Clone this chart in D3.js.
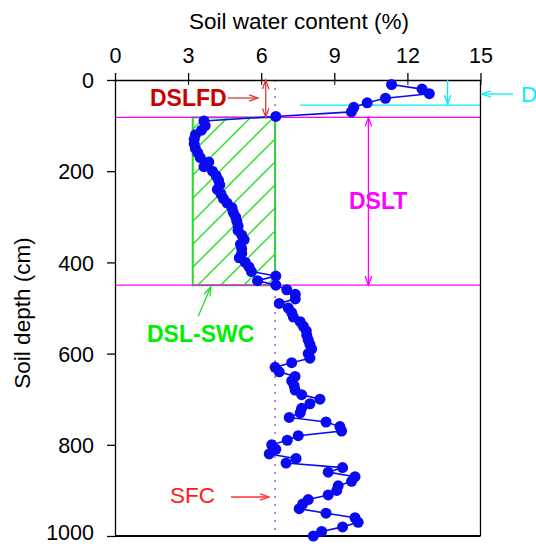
<!DOCTYPE html>
<html>
<head>
<meta charset="utf-8">
<script src="https://cdn.jsdelivr.net/npm/d3@7/dist/d3.min.js"></script>
<style>
  html, body { margin: 0; padding: 0; background: #fff; }
  svg { display: block; font-family: "Liberation Sans", Arial, sans-serif; }
</style>
</head>
<body>
<svg id="chart" width="536" height="547"></svg>
<script>
// ---- data ----
const depths = [10,20,30,40,50,60,70,80,90,100,110,120,130,140,150,160,170,180,190,200,
  210,220,230,240,250,260,270,280,290,300,310,320,330,340,350,360,370,380,390,400,
  410,420,430,440,450,460,470,480,490,500,510,520,530,540,550,560,570,580,590,600,
  610,620,630,640,650,660,670,680,690,700,710,720,730,740,750,760,770,780,790,800,
  810,820,830,840,850,860,870,880,890,900,910,920,930,940,950,960,970,980,990,1000];
const swc = [11.35,12.6,12.9,11.1,10.35,9.8,9.7,6.6,3.65,3.7,
  3.55,3.3,3.25,3.25,3.3,3.4,3.5,3.85,3.65,4.0,
  4.15,4.25,4.3,4.2,4.35,4.45,4.6,4.8,4.85,4.95,
  5.0,5.05,5.05,5.2,5.3,5.15,5.2,5.2,5.1,5.35,
  5.5,5.6,6.6,5.85,6.6,7.05,7.4,7.4,6.74,7.11,
  7.25,7.32,7.6,7.73,7.85,7.87,7.93,8.0,8.07,7.93,
  8.0,7.25,6.57,6.74,7.39,7.25,7.35,7.39,7.66,8.41,
  8.0,7.66,7.6,7.15,8.66,9.23,9.3,7.52,7.07,6.43,
  6.6,6.33,7.43,7.02,9.34,8.75,9.85,9.71,9.16,9.1,
  8.75,7.93,7.7,7.56,8.66,9.85,9.98,9.34,8.48,8.14];
const xTicks = [0,3,6,9,12,15];
const yTicks = [0,200,400,600,800,1000];
const sfc = 6.57;          // soil field capacity (%)
const dslTop = 82;         // DSLFD depth (cm)
const dslBottom = 450;     // bottom of dried soil layer (cm)
const dslMinSwc = 3.19;    // left edge of DSL-SWC box (%)
const cyanDepth = 55;      // cyan marker depth (cm)
const cyanStart = 7.6;     // cyan line start (%)
const dsltArrowX = 10.4;   // x position of DSLT arrow (%)
const cyanArrowX = 13.65;  // x position of cyan arrow (%)

// ---- scales ----
const svg = d3.select("#chart");
const x = d3.scaleLinear().domain([0, 15]).range([115, 480.5]);
const y = d3.scaleLinear().domain([0, 1000]).range([80, 536]);

// defs: hatch
const defs = svg.append("defs");
const hs = 23;
defs.append("pattern").attr("id", "hatch").attr("patternUnits", "userSpaceOnUse")
  .attr("width", hs).attr("height", hs).attr("x", 0).attr("y", 0)
  .append("path")
  .attr("d", `M${-hs/4},${hs/4} L${hs/4},${-hs/4} M0,${hs} L${hs},0 M${hs*3/4},${hs*5/4} L${hs*5/4},${hs*3/4}`)
  .attr("stroke", "#22dd22").attr("stroke-width", 1.4);

function arrowHead(g, x1, y1, x2, y2, color, len = 9, half = 3.2) {
  const dx = x2 - x1, dy = y2 - y1, L = Math.hypot(dx, dy);
  const ux = dx / L, uy = dy / L;
  const bx = x2 - ux * len, by = y2 - uy * len;
  const px = -uy * half, py = ux * half;
  g.append("path")
    .attr("d", `M${bx + px},${by + py} L${x2},${y2} L${bx - px},${by - py}`)
    .attr("fill", "none").attr("stroke", color).attr("stroke-width", 1.3);
}
function arrow(g, x1, y1, x2, y2, color, both = false) {
  g.append("line").attr("x1", x1).attr("y1", y1).attr("x2", x2).attr("y2", y2)
    .attr("stroke", color).attr("stroke-width", 1.3);
  arrowHead(g, x1, y1, x2, y2, color);
  if (both) arrowHead(g, x2, y2, x1, y1, color);
}

// ---- DSL-SWC hatched box ----
svg.append("rect")
  .attr("x", x(dslMinSwc)).attr("y", y(dslTop))
  .attr("width", x(sfc) - x(dslMinSwc)).attr("height", y(dslBottom) - y(dslTop))
  .attr("fill", "url(#hatch)").attr("stroke", "#22dd22").attr("stroke-width", 2);

// ---- SFC dotted line ----
svg.append("line")
  .attr("x1", x(sfc)).attr("x2", x(sfc)).attr("y1", y(0)).attr("y2", y(1000))
  .attr("stroke", "#9a70d0").attr("stroke-width", 1.6).attr("stroke-dasharray", "2,6");

// ---- magenta DSL boundaries ----
[dslTop, dslBottom].forEach(d => {
  svg.append("line").attr("x1", x(0)).attr("x2", x(15)).attr("y1", y(d)).attr("y2", y(d))
    .attr("stroke", "#ff00ff").attr("stroke-width", 1.2);
});

// ---- cyan marker ----
svg.append("line").attr("x1", x(cyanStart)).attr("x2", x(15))
  .attr("y1", y(cyanDepth)).attr("y2", y(cyanDepth))
  .attr("stroke", "#00f0ff").attr("stroke-width", 1.3);
const ann = svg.append("g");
arrow(ann, x(cyanArrowX), y(0), x(cyanArrowX), y(cyanDepth) - 1, "#00f0ff");
arrow(ann, 513, 94, 482, 94, "#00f0ff");
svg.append("text").attr("x", 521).attr("y", 102).attr("font-size", 22.5)
  .attr("fill", "#00f0ff").text("D");

// ---- axes / frame ----
const frame = svg.append("g").attr("stroke", "#000").attr("stroke-width", 1.3);
frame.append("line").attr("x1", x(15)).attr("x2", x(15)).attr("y1", y(0)).attr("y2", y(1000));
frame.append("line").attr("x1", x(0)).attr("x2", x(15)).attr("y1", y(1000)).attr("y2", y(1000))
  .attr("stroke-width", 2);

const xAxis = svg.append("g").attr("transform", `translate(0,${y(0)})`)
  .call(d3.axisTop(x).tickValues(xTicks).tickSize(7).tickSizeOuter(0).tickPadding(10)
    .tickFormat(d3.format("d")));
svg.append("g").attr("transform", `translate(0,${y(0)})`)
  .call(d3.axisTop(x).tickValues(xTicks).tickSize(-5).tickSizeOuter(0).tickFormat(""))
  .call(g => g.select(".domain").remove());
const yAxis = svg.append("g").attr("transform", `translate(${x(0)},0)`)
  .call(d3.axisLeft(y).tickValues(yTicks).tickSize(8).tickSizeOuter(0).tickPadding(13)
    .tickFormat(d3.format("d")));
[xAxis, yAxis].forEach(a => {
  a.selectAll(".domain").attr("stroke-width", 1.3);
  a.selectAll(".tick line").attr("stroke-width", 1.3);
  a.selectAll("text").attr("font-size", 21.5)
    .attr("font-family", "'Liberation Sans', Arial, sans-serif").attr("fill", "#000");
});
yAxis.selectAll("text").attr("dy", d => d === 1000 ? "0.16em" : "0.36em");

svg.append("text").attr("x", 299).attr("y", 29).attr("text-anchor", "middle")
  .attr("font-size", 22.5).text("Soil water content (%)");
svg.append("text").attr("transform", "translate(30,313) rotate(-90)")
  .attr("text-anchor", "middle").attr("font-size", 22.5).text("Soil depth (cm)");

// ---- data line + points ----
const pts = depths.map((d, i) => [swc[i], d]);
svg.append("path").datum(pts)
  .attr("d", d3.line().x(p => x(p[0])).y(p => y(p[1])))
  .attr("fill", "none").attr("stroke", "#0a0af0").attr("stroke-width", 1.6);
svg.append("g").selectAll("circle").data(pts).join("circle")
  .attr("cx", p => x(p[0])).attr("cy", p => y(p[1])).attr("r", 5.5)
  .attr("fill", "#0a0af0");

// ---- annotations ----
// DSLFD
svg.append("text").attr("x", 150).attr("y", 106).attr("font-size", 23).attr("font-weight", "bold")
  .attr("fill", "#c80000").text("DSLFD");
arrow(ann, 228, 98, 258, 98, "#d83a3a");
arrow(ann, 265.7, y(0), 265.7, y(dslTop), "#d83a3a", true);
ann.raise();
// DSLT
svg.append("text").attr("x", 349).attr("y", 209).attr("font-size", 23).attr("font-weight", "bold")
  .attr("fill", "#ff00ff").text("DSLT");
arrow(svg, x(dsltArrowX), y(dslTop), x(dsltArrowX), y(dslBottom), "#ff00ff", true);
// DSL-SWC
svg.append("text").attr("x", 147).attr("y", 342).attr("font-size", 23).attr("font-weight", "bold")
  .attr("fill", "#00ee00").text("DSL-SWC");
arrow(svg, 198.3, 316, 210.7, 287, "#22dd22");
// SFC
svg.append("text").attr("x", 170).attr("y", 503).attr("font-size", 22.5)
  .attr("fill", "#ff1a1a").text("SFC");
arrow(svg, 231, 497, 269, 497, "#ff3030");
</script>
</body>
</html>
